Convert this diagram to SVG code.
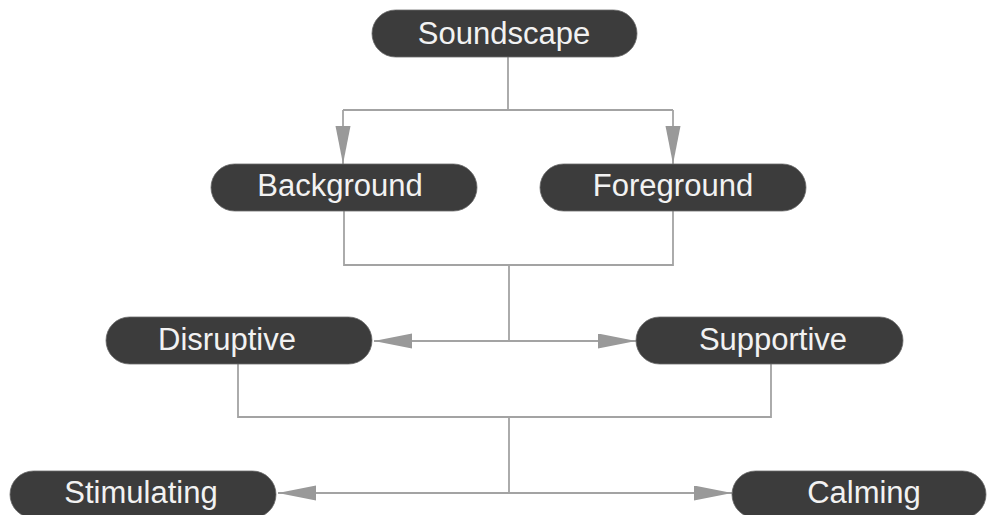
<svg xmlns="http://www.w3.org/2000/svg" width="987" height="515" viewBox="0 0 987 515">
<style>
.pill{fill:#3c3c3c;stroke:#6a6a6a;stroke-width:0.8}
.lbl{font-family:"Liberation Sans",Arial,sans-serif;font-size:31px;fill:#f2f2f2;text-anchor:middle}
.ln{fill:none;stroke:#a3a3a3;stroke-width:1.8}
</style>
<defs>
<marker id="ah" markerUnits="userSpaceOnUse" markerWidth="40" markerHeight="16" refX="38" refY="7.5" orient="auto" viewBox="0 0 40 16">
<path d="M0,0 L38,7.5 L0,15 Z" fill="#999999"/>
</marker>
</defs>
<rect width="987" height="515" fill="#ffffff"/>
<g id="connectors">
<path class="ln" d="M508,57 V110 M343,110 H673"/>
<path class="ln" d="M343,110 V164" marker-end="url(#ah)"/>
<path class="ln" d="M673,110 V164" marker-end="url(#ah)"/>
<path class="ln" d="M344,211 V265 H673 V211 M509,265 V341"/>
<path class="ln" d="M509,341 H374" marker-end="url(#ah)"/>
<path class="ln" d="M509,341 H636" marker-end="url(#ah)"/>
<path class="ln" d="M238,364 V417 H771 V364 M509,417 V493"/>
<path class="ln" d="M509,493 H278" marker-end="url(#ah)"/>
<path class="ln" d="M509,493 H732" marker-end="url(#ah)"/>
</g>
<g id="soundscape"><rect class="pill" x="372" y="10" width="265" height="47" rx="23.5"/><text class="lbl" x="504" y="44">Soundscape</text></g>
<g id="background"><rect class="pill" x="211" y="164" width="266" height="47" rx="23.5"/><text class="lbl" x="340" y="196">Background</text></g>
<g id="foreground"><rect class="pill" x="540" y="164" width="266" height="47" rx="23.5"/><text class="lbl" x="673" y="196">Foreground</text></g>
<g id="disruptive"><rect class="pill" x="106" y="317" width="266" height="47" rx="23.5"/><text class="lbl" x="227" y="350">Disruptive</text></g>
<g id="supportive"><rect class="pill" x="636" y="317" width="267" height="47" rx="23.5"/><text class="lbl" x="773" y="350">Supportive</text></g>
<g id="stimulating"><rect class="pill" x="10" y="471" width="266" height="47" rx="23.5"/><text class="lbl" x="141" y="503">Stimulating</text></g>
<g id="calming"><rect class="pill" x="732" y="471" width="254" height="47" rx="23.5"/><text class="lbl" x="864" y="503">Calming</text></g>
</svg>
